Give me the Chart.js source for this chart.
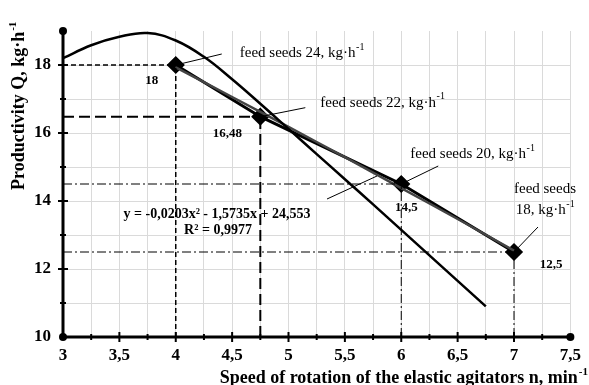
<!DOCTYPE html>
<html>
<head>
<meta charset="utf-8">
<script src="https://cdn.jsdelivr.net/npm/chart.js@4"></script>
<style>
  html, body { margin: 0; padding: 0; background: #fff; }
  #wrap { width: 589px; height: 385px; }
</style>
</head>
<body>
<div id="wrap"><canvas id="chart"></canvas></div>
<script>
// measured points (speed n, productivity Q)
var speed = [4, 4.75, 6, 7];
var productivity = [18, 16.48, 14.5, 12.5];
var pointLabels = ['18', '16,48', '14,5', '12,5'];
var feedNames = ['feed seeds 24, kg·h', 'feed seeds 22, kg·h', 'feed seeds 20, kg·h', 'feed seeds 18, kg·h'];

// upper curve
var curveX = [3, 3.25, 3.5, 3.75, 4, 4.25, 4.5, 4.75, 5, 5.25, 5.5, 5.75, 6, 6.25, 6.5, 6.75];
var curveY = [18.2, 18.58, 18.83, 18.94, 18.72, 18.24, 17.58, 16.86, 16.12, 15.38, 14.64, 13.9, 13.15, 12.4, 11.65, 10.9];

// polynomial trend line
var trendX = [4, 4.5, 5, 5.5, 6, 6.5, 7];
var trendY = [17.93, 17.06, 16.18, 15.29, 14.38, 13.47, 12.54];

var xTicks = [3, 3.5, 4, 4.5, 5, 5.5, 6, 6.5, 7, 7.5];
var yTicks = [10, 12, 14, 16, 18];

var SERIF = '"Liberation Serif", "Times New Roman", serif';

function pts(xs, ys) {
    return xs.map(function (x, i) { return { x: x, y: ys[i] }; });
}
function comma(v) {
    return String(v).replace('.', ',');
}

// guide lines from every point to the axes
var guideDash = [[5, 3], [11, 5], [9, 3, 2, 3], [9, 3, 2, 3]];
var guideWidth = [1.5, 2, 1, 1];
var guides = [];
speed.forEach(function (s, i) {
    guides.push({
        data: [{ x: 3, y: productivity[i] }, { x: s, y: productivity[i] }],
        borderColor: '#000', borderWidth: guideWidth[i], borderDash: guideDash[i],
        pointRadius: 0, tension: 0
    });
    guides.push({
        data: [{ x: s, y: 10 }, { x: s, y: productivity[i] }],
        borderColor: '#000', borderWidth: guideWidth[i], borderDash: guideDash[i],
        pointRadius: 0, tension: 0
    });
});

var decor = {
    id: 'decor',
    afterDatasetsDraw: function (chart) {
        var ctx = chart.ctx;
        var xs = chart.scales.x, ys = chart.scales.y;
        var x0 = xs.getPixelForValue(3), x1 = xs.getPixelForValue(7.5);
        var y0 = ys.getPixelForValue(10), y1 = ys.getPixelForValue(19);
        ctx.save();
        ctx.strokeStyle = '#000';
        ctx.fillStyle = '#000';
        // axes
        ctx.lineWidth = 3;
        ctx.beginPath();
        ctx.moveTo(x0, y1); ctx.lineTo(x0, y0); ctx.lineTo(x1, y0);
        ctx.stroke();
        ctx.lineWidth = 2;
        for (var v = 3.25; v < 7.5; v += 0.25) {
            var p = xs.getPixelForValue(v);
            var len = (Math.round(v * 4) % 2 === 0) ? 5 : 3;
            ctx.beginPath(); ctx.moveTo(p, y0 - len); ctx.lineTo(p, y0 + len); ctx.stroke();
        }
        for (var w = 11; w < 19; w += 1) {
            var q = ys.getPixelForValue(w);
            var l2 = (w % 2 === 0) ? 5 : 3;
            ctx.beginPath(); ctx.moveTo(x0 - l2, q); ctx.lineTo(x0 + l2, q); ctx.stroke();
        }
        [[x0, y1], [x0, y0], [x1, y0]].forEach(function (c) {
            ctx.beginPath(); ctx.arc(c[0], c[1], 4, 0, Math.PI * 2); ctx.fill();
        });

        // value labels at points
        var valOff = [[-24, 16], [-33, 17], [5, 24], [37, 13]];
        ctx.font = 'bold 13px ' + SERIF;
        ctx.textAlign = 'center';
        ctx.textBaseline = 'middle';
        speed.forEach(function (s, i) {
            var px = xs.getPixelForValue(s), py = ys.getPixelForValue(productivity[i]);
            ctx.fillText(pointLabels[i], px + valOff[i][0], py + valOff[i][1]);
        });

        // feed labels with leader lines
        var lead = [[46, -11], [45, -9], [37, -18], [24, -25]];
        ctx.lineWidth = 1;
        speed.forEach(function (s, i) {
            var px = xs.getPixelForValue(s), py = ys.getPixelForValue(productivity[i]);
            ctx.beginPath(); ctx.moveTo(px, py); ctx.lineTo(px + lead[i][0], py + lead[i][1]); ctx.stroke();
        });
        function supText(text, x, y, align) {
            ctx.font = '15px ' + SERIF;
            var wMain = ctx.measureText(text).width;
            ctx.font = '10px ' + SERIF;
            var wSup = ctx.measureText('-1').width;
            var start = x;
            if (align === 'center') start = x - (wMain + wSup) / 2;
            ctx.textAlign = 'left';
            ctx.font = '15px ' + SERIF;
            ctx.fillText(text, start, y);
            ctx.font = '10px ' + SERIF;
            ctx.fillText('-1', start + wMain + 0.5, y - 6);
        }
        var p0 = [xs.getPixelForValue(speed[0]), ys.getPixelForValue(productivity[0])];
        var p1 = [xs.getPixelForValue(speed[1]), ys.getPixelForValue(productivity[1])];
        var p2 = [xs.getPixelForValue(speed[2]), ys.getPixelForValue(productivity[2])];
        var p3 = [xs.getPixelForValue(speed[3]), ys.getPixelForValue(productivity[3])];
        supText(feedNames[0], p0[0] + 64, p0[1] - 12);
        supText(feedNames[1], p1[0] + 60, p1[1] - 14);
        supText(feedNames[2], p2[0] + 9, p2[1] - 30);
        ctx.font = '15px ' + SERIF;
        ctx.textAlign = 'center';
        ctx.fillText('feed seeds', p3[0] + 31, p3[1] - 63);
        supText('18, kg·h', p3[0] + 31, p3[1] - 42, 'center');

        // trend equation
        ctx.textAlign = 'center';
        ctx.font = 'bold 14px ' + SERIF;
        ctx.fillText('y = -0,0203x² - 1,5735x + 24,553', 217, 214);
        ctx.fillText('R² = 0,9977', 218, 230);
        ctx.lineWidth = 1;
        ctx.beginPath(); ctx.moveTo(327, 199); ctx.lineTo(377, 176); ctx.stroke();

        // axis titles
        ctx.textAlign = 'left';
        ctx.textBaseline = 'alphabetic';
        ctx.font = 'bold 18px ' + SERIF;
        var xt = 'Speed of rotation of the elastic agitators n, min';
        var wx = ctx.measureText(xt).width;
        ctx.font = 'bold 11px ' + SERIF;
        var ws = ctx.measureText('-1').width;
        var sx = 587 - wx - ws;
        ctx.font = 'bold 18px ' + SERIF;
        ctx.fillText(xt, sx, 383);
        ctx.font = 'bold 11px ' + SERIF;
        ctx.fillText('-1', sx + wx + 1, 375);

        ctx.translate(24, 190);
        ctx.rotate(-Math.PI / 2);
        ctx.font = 'bold 18px ' + SERIF;
        var yt = 'Productivity Q, kg·h';
        var wy = ctx.measureText(yt).width;
        ctx.fillText(yt, 0, 0);
        ctx.font = 'bold 11px ' + SERIF;
        ctx.fillText('-1', wy + 1, -8);
        ctx.restore();
    }
};

var ctx = document.getElementById('chart').getContext('2d');
var chart = new Chart(ctx, {
    type: 'line',
    data: {
        datasets: guides.concat([
            {
                data: pts(curveX, curveY),
                borderColor: '#000', borderWidth: 2.5,
                pointRadius: 0, tension: 0.4
            },
            {
                data: pts(trendX, trendY),
                borderColor: '#444', borderWidth: 2.4,
                pointRadius: 0, tension: 0.3
            },
            {
                data: pts(trendX, trendY),
                borderColor: '#fff', borderWidth: 1,
                pointRadius: 0, tension: 0.3
            },
            {
                data: pts(speed, productivity),
                borderColor: '#000', borderWidth: 3,
                pointStyle: 'rectRot', pointRadius: 7,
                pointBackgroundColor: '#000', pointBorderColor: '#000',
                tension: 0
            }
        ])
    },
    options: {
        responsive: true,
        maintainAspectRatio: false,
        animation: false,
        events: [],
        layout: { padding: { top: 31, right: 16, left: 0, bottom: 0 } },
        plugins: { legend: { display: false }, tooltip: { enabled: false } },
        scales: {
            x: {
                type: 'linear', min: 3, max: 7.5,
                afterFit: function (s) { s.height = 48; },
                border: { display: false },
                grid: {
                    drawTicks: false,
                    color: function (c) { return c.tick.value === 3 ? 'rgba(0,0,0,0)' : '#dadada'; }
                },
                ticks: {
                    stepSize: 0.25, autoSkip: false, maxRotation: 0, padding: 8,
                    color: '#000', font: { family: SERIF, size: 17, weight: 'bold' },
                    callback: function (v) { return xTicks.indexOf(v) >= 0 ? comma(v) : ''; }
                }
            },
            y: {
                min: 10, max: 19,
                afterFit: function (s) { s.width = 63; },
                border: { display: false },
                grid: {
                    drawTicks: false,
                    color: function (c) { return (c.tick.value === 10 || c.tick.value === 19) ? 'rgba(0,0,0,0)' : '#dadada'; }
                },
                ticks: {
                    stepSize: 1, autoSkip: false, padding: 12,
                    color: '#000', font: { family: SERIF, size: 17, weight: 'bold' },
                    callback: function (v) { return yTicks.indexOf(v) >= 0 ? String(v) : ''; }
                }
            }
        }
    },
    plugins: [decor]
});
</script>
</body>
</html>
